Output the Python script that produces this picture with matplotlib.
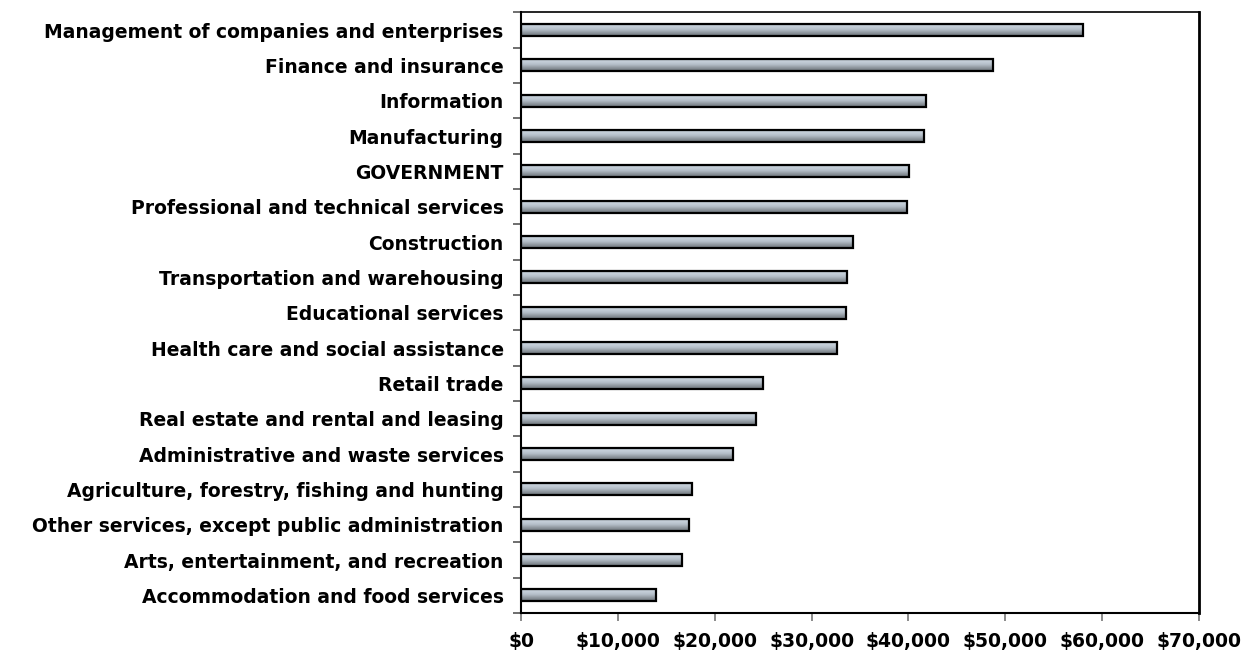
import matplotlib.pyplot as plt
import numpy as np
from matplotlib.colors import LinearSegmentedColormap
from matplotlib.ticker import FuncFormatter, MultipleLocator

# Industries, top to bottom as shown
industries = [
    'Management of companies and enterprises',
    'Finance and insurance',
    'Information',
    'Manufacturing',
    'GOVERNMENT',
    'Professional and technical services',
    'Construction',
    'Transportation and warehousing',
    'Educational services',
    'Health care and social assistance',
    'Retail trade',
    'Real estate and rental and leasing',
    'Administrative and waste services',
    'Agriculture, forestry, fishing and hunting',
    'Other services, except public administration',
    'Arts, entertainment, and recreation',
    'Accommodation and food services',
]
earnings = [58000, 48700, 41800, 41600, 40100, 39900, 34300, 33700, 33550,
            32600, 25000, 24300, 21900, 17700, 17300, 16600, 13900]

plt.rcParams['font.family'] = ['DejaVu Sans']

fig = plt.figure(figsize=(12.5, 6.5), dpi=100)
ax = fig.add_axes([0.4168, 0.0569, 0.5424, 0.9239])

n = len(industries)
ypos = np.arange(n)[::-1]
h = 0.34

# vertical gradient: light on top, darker at the bottom
grad_cmap = LinearSegmentedColormap.from_list(
    'bar', ['#6c737a', '#8e969e', '#b4bec8', '#c6d0da', '#a9b3bd'])
grad = np.linspace(0, 1, 64).reshape(-1, 1)

for y, v in zip(ypos, earnings):
    ax.imshow(grad, cmap=grad_cmap, aspect='auto', origin='lower',
              extent=(0, v, y - h / 2, y + h / 2), zorder=2, interpolation='bilinear')
ax.barh(ypos, earnings, height=h, facecolor='none', edgecolor='black',
        linewidth=1.6, zorder=3)

ax.set_xlim(0, 70000)
ax.set_ylim(-0.5, n - 0.5)
ax.xaxis.set_major_locator(MultipleLocator(10000))
ax.xaxis.set_major_formatter(FuncFormatter(lambda x, p: f'${x:,.0f}'))

ax.set_yticks(ypos)
ax.set_yticklabels(industries)
ax.set_yticks(np.arange(-0.5, n), minor=True)
ax.tick_params(axis='y', which='major', length=0, pad=12.5)
ax.tick_params(axis='y', which='minor', length=6, color='#555555', width=1.2)
ax.tick_params(axis='x', length=6, color='#777777', width=1.2, pad=8)

for lbl in ax.get_yticklabels() + ax.get_xticklabels():
    lbl.set_fontsize(13.5)
    lbl.set_fontweight('bold')

for side in ['left', 'bottom']:
    ax.spines[side].set_linewidth(1.5)
ax.spines['top'].set_linewidth(1.2)
ax.spines['right'].set_linewidth(2)

fig.savefig('out.png', dpi=100)
